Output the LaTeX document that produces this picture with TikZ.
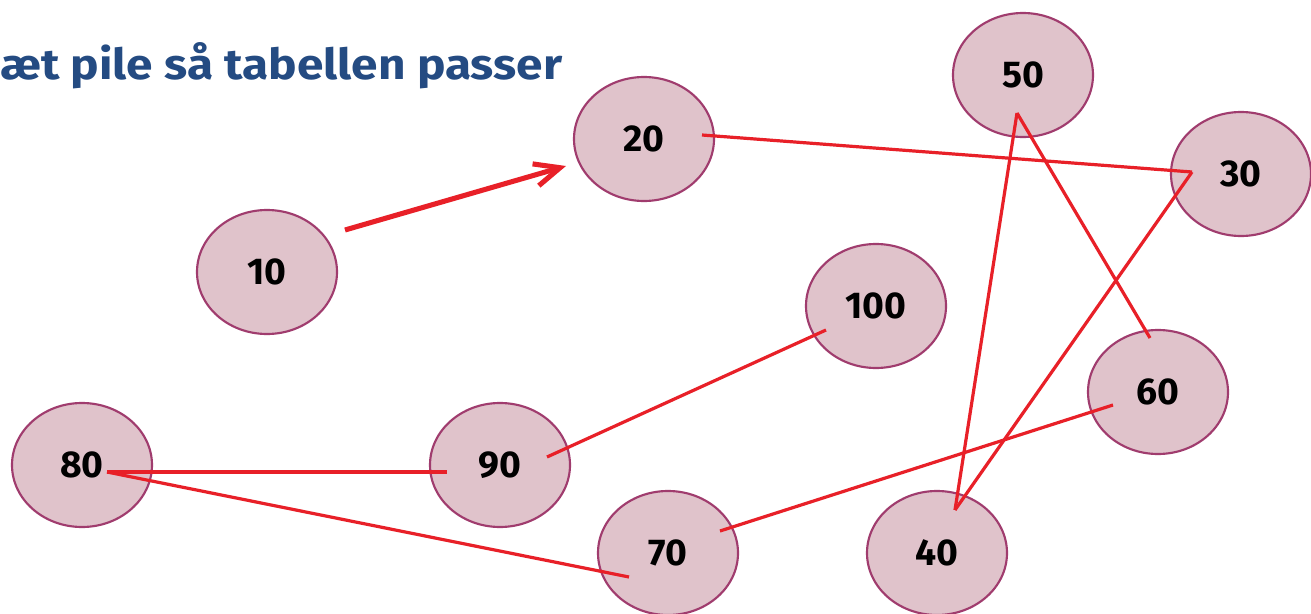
\documentclass[tikz,border=0pt]{standalone}
\usepackage{fontspec}
\setmainfont{Fira Sans}
\newfontfamily\titlefont[FakeStretch=1.12]{Fira Sans}
\usetikzlibrary{arrows.meta,shapes.geometric}
\definecolor{nodefill}{RGB}{224,195,203}
\definecolor{nodedraw}{RGB}{160,60,110}
\definecolor{linered}{RGB}{232,32,40}
\definecolor{titleblue}{RGB}{36,75,130}
\begin{document}
\begin{tikzpicture}[x=0.75pt,y=-0.75pt,
  numnode/.style={ellipse,draw=nodedraw,fill=nodefill,line width=1.6pt,minimum width=105pt,minimum height=93pt,inner sep=0pt,font=\fontsize{28}{32}\selectfont\bfseries},
  link/.style={draw=linered,line width=2.4pt},
  bigarrow/.style={draw=linered,line width=3.8pt,-{Straight Barb[length=19pt,width=17pt]}}]
\useasboundingbox (0,0) rectangle (1311,614);
\fill[white] (0,0) rectangle (1311,614);
\node[anchor=base west,text=titleblue,font=\titlefont\fontsize{32}{36}\selectfont\bfseries,inner sep=0pt] (title) at (0,79) {æt pile så tabellen passer};
\node[numnode] (n50) at (1023,75) {50};
\node[numnode] (n20) at (644,139) {20};
\node[numnode] (n30) at (1241,174) {30};
\node[numnode] (n10) at (267,272) {10};
\node[numnode] (n100) at (876,306) {100};
\node[numnode] (n60) at (1158,392) {60};
\node[numnode] (n80) at (82,465) {80};
\node[numnode] (n90) at (500,465) {90};
\node[numnode] (n70) at (668,553) {70};
\node[numnode] (n40) at (937,553) {40};
% connector end points
\coordinate (a10) at (345,230);
\coordinate (a20) at (566,166);
\coordinate (p20) at (702,135);
\coordinate (p30) at (1192,172);
\coordinate (p50) at (1017,113);
\coordinate (p40) at (955,510);
\coordinate (p60) at (1150,338);
\coordinate (q60) at (1113,405);
\coordinate (p70) at (720,531);
\coordinate (q70) at (629,577);
\coordinate (p100) at (826,330);
\coordinate (p90) at (547,457);
\coordinate (q90) at (447,472);
\coordinate (p80) at (107,472);
\draw[bigarrow] (a10) -- (a20);
\draw[link] (p20) -- (p30);
\draw[link] (p50) -- (p40);
\draw[link] (p50) -- (p60);
\draw[link] (p30) -- (p40);
\draw[link] (p100) -- (p90);
\draw[link] (p80) -- (q90);
\draw[link] (p80) -- (q70);
\draw[link] (q60) -- (p70);
\end{tikzpicture}
\end{document}
